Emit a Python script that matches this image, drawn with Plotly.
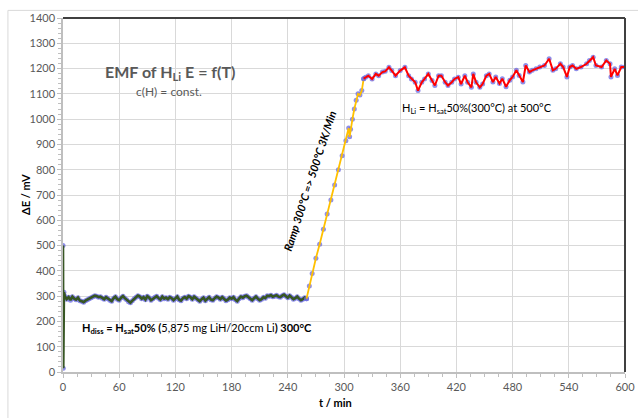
import plotly.graph_objects as go

# ---- data ----
# phase 1: 300 °C, dissolution (dark green)
t_diss = [0, 0.3, 1] + list(range(2, 262, 2))
e_diss = [500, 15, 315,
          300, 288, 296, 284, 298, 290, 286,
          294, 282, 280, 276, 282, 286,
          290, 294, 298, 302, 300, 296, 298,
          292, 288, 296, 290, 284, 280, 292,
          298, 288, 284, 294, 300, 292, 286,
          278, 274, 282, 290, 296, 302, 298,
          290, 296, 286, 300, 294, 284, 290,
          296, 300, 292, 286, 298, 290, 294,
          288, 296, 292, 284, 290, 298, 286,
          282, 292, 296, 290, 300, 296, 288,
          298, 292, 286, 280, 288, 294, 282,
          290, 296, 286, 284, 292, 298, 294,
          288, 296, 290, 282, 286, 294, 290,
          296, 286, 280, 290, 298, 294, 300,
          302, 296, 290, 284, 292, 298, 290,
          284, 288, 296, 292, 302, 300, 304,
          298, 300, 304, 298, 296, 302, 306,
          300, 294, 302, 296, 288, 292, 298,
          290, 284, 288, 294, 290]

# phase 2: ramp 300 -> 500 °C (orange)
t_ramp = [260, 263, 266, 270, 274, 278, 282, 286, 290, 294, 298, 302, 305, 306, 307, 309, 311, 313, 315, 317, 319, 321]
e_ramp = [290, 340, 390, 450, 505, 565, 625, 680, 740, 800, 855, 915, 965, 930, 960, 1000, 1040, 1075, 1100, 1095, 1113, 1160]

# phase 3: 500 °C plateau (red)
t_hot = [321, 323, 326, 330, 334, 337, 341, 344, 348, 351, 355, 360, 365, 369, 372, 376, 379, 383, 386, 390,
         394, 397, 401, 404, 408, 411, 415, 418, 422, 425, 429, 432, 436, 438, 441, 445, 448, 452, 455, 459,
         462, 466, 469, 473, 477, 480, 484, 487, 491, 494, 498, 501, 505, 509, 514, 519, 523, 526, 531, 534,
         538, 541, 544, 548, 553, 559, 562, 566, 569, 575, 580, 584, 585, 589, 592, 596, 600]
e_hot = [1160, 1166, 1172, 1159, 1179, 1172, 1186, 1189, 1205, 1192, 1172, 1192, 1205, 1172, 1159, 1146, 1113, 1146, 1159, 1179,
         1153, 1133, 1172, 1172, 1146, 1133, 1146, 1159, 1166, 1139, 1172, 1146, 1126, 1179, 1146, 1126, 1139, 1172, 1179, 1147,
         1167, 1141, 1160, 1128, 1154, 1167, 1193, 1173, 1147, 1212, 1186, 1193, 1199, 1206, 1212, 1239, 1193, 1199, 1219, 1206,
         1167, 1206, 1212, 1199, 1206, 1219, 1232, 1245, 1212, 1206, 1232, 1219, 1167, 1199, 1173, 1206, 1206]

x_ticks = [0, 60, 120, 180, 240, 300, 360, 420, 480, 540, 600]
y_ticks = [0, 100, 200, 300, 400, 500, 600, 700, 800, 900, 1000, 1100, 1200, 1300, 1400]

FONT = "Lato"
MK = dict(color="rgba(105,105,225,0.75)", size=5)

fig = go.Figure()
for tt, ee, col, w in [(t_diss, e_diss, "#375623", 2.6), (t_ramp, e_ramp, "#FFC000", 1.8), (t_hot, e_hot, "#FF0000", 2.0)]:
    fig.add_trace(go.Scatter(x=tt, y=ee, mode="markers", marker=MK, showlegend=False, hoverinfo="skip"))
    fig.add_trace(go.Scatter(x=tt, y=ee, mode="lines", line=dict(color=col, width=w), showlegend=False))

axis_common = dict(
    showgrid=True, gridcolor="#d9d9d9", gridwidth=1,
    showline=True, linecolor="#bfbfbf", linewidth=1.5,
    ticks="outside", ticklen=4, tickcolor="#bfbfbf",
    tickfont=dict(family=FONT, size=11, color="#595959"),
    zeroline=False, automargin=False,
)
fig.update_xaxes(range=[0, 600], tickvals=x_ticks, ticktext=[str(v) for v in x_ticks],
                 minor=dict(dtick=15, ticks="outside", ticklen=3, tickcolor="#bfbfbf", showgrid=False),
                 **axis_common)
fig.update_yaxes(range=[0, 1400], tickvals=y_ticks, ticktext=[str(v) for v in y_ticks],
                 minor=dict(dtick=20, ticks="outside", ticklen=3, tickcolor="#bfbfbf", showgrid=False),
                 **axis_common)

shapes = [
    # dark top and right plot-area border
    dict(type="line", xref="x domain", yref="y domain", x0=0, x1=1, y0=1, y1=1, line=dict(color="#404040", width=2)),
    dict(type="line", xref="x domain", yref="y domain", x0=1, x1=1, y0=0, y1=1, line=dict(color="#404040", width=2)),
    # outer chart border (cropped)
    dict(type="line", xref="paper", yref="paper", x0=-0.098, x1=1.05, y0=1.0215, y1=1.0215, line=dict(color="#d9d9d9", width=1)),
    dict(type="line", xref="paper", yref="paper", x0=-0.098, x1=-0.098, y0=-0.2, y1=1.0215, line=dict(color="#d9d9d9", width=1)),
]

def ann(text, x, y, size, color="black", angle=0):
    return dict(text=text, xref="paper", yref="paper", x=x, y=y, xanchor="center", yanchor="middle",
                showarrow=False, textangle=angle, font=dict(family=FONT, size=size, color=color))

# helpers to convert pixel positions to paper coords
L, R, T, B = 63, 625, 18, 372
px = lambda p: (p - L) / (R - L)
py = lambda p: (B - p) / (B - T)

annotations = [
    ann("<b>EMF of H<sub>Li</sub> E = f(T)</b>", px(170), py(72), 16, "#595959"),
    ann("c(H) = const.", px(169), py(92), 12, "#595959"),
    ann("<b><i>Ramp 300°C => 500°C 3K/Min</i></b>", px(309), py(181), 11, "black", -72),
    ann("H<sub>Li</sub> = H<sub>sat</sub>50%(300°C) at 500°C", px(477), py(108), 11),
    ann("<b>H<sub>diss</sub> = H<sub>sat</sub>50% (</b>5,875 mg LiH/20ccm Li<b>) 300°C</b>", px(197), py(328), 11),
    ann("<b>t / min</b>", px(335), py(402), 11),
    ann("<b>ΔE / mV</b>", px(25), py(195), 11, "black", -90),
]

fig.update_layout(
    width=638, height=418,
    margin=dict(l=63, r=13, t=18, b=46),
    paper_bgcolor="white", plot_bgcolor="white",
    shapes=shapes, annotations=annotations,
    font=dict(family=FONT),
)

fig.write_html("out.html", config={"displayModeBar": False},
               post_script="document.body.style.margin='0';document.body.style.padding='0';")
